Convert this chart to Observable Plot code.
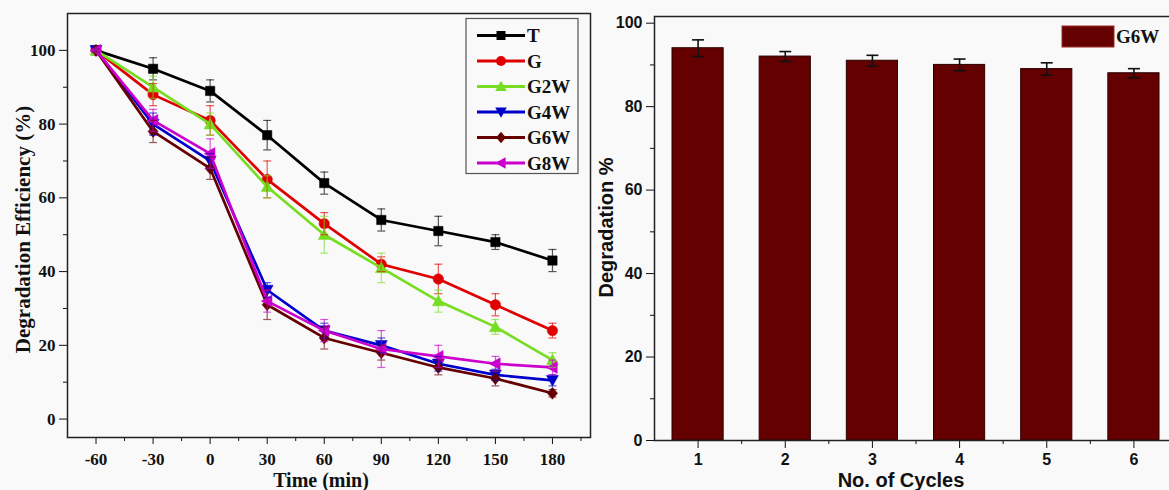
<!DOCTYPE html>
<html>
<head>
<meta charset="utf-8">
<script src="https://cdn.jsdelivr.net/npm/d3@7"></script>
<script src="https://cdn.jsdelivr.net/npm/@observablehq/plot@0.6"></script>
<style>
  html, body { margin: 0; padding: 0; background: #f9f9f9; overflow: hidden; }
  #wrap { position: relative; width: 1169px; height: 490px; overflow: hidden; }
  #left { position: absolute; left: 0; top: 0; width: 595px; height: 490px; }
  #right { position: absolute; left: 595px; top: 0; width: 584px; height: 490px; }
  #left svg, #right svg { max-width: none !important; }
  #legL { position: absolute; left: 0; top: 0; }
</style>
</head>
<body>
<div id="wrap">
  <div id="left"></div>
  <div id="right"></div>
  <svg id="legL" width="1169" height="490" style="pointer-events:none"></svg>
</div>
<script>
// ---------- Data: left panel ----------
const times = [-60, -30, 0, 30, 60, 90, 120, 150, 180];
const seriesNames = ["T", "G", "G2W", "G4W", "G6W", "G8W"];
const seriesColors = ["#000000", "#e00000", "#77dd22", "#0000cc", "#660000", "#cc00cc"];
const T_vals   = [100, 95, 89, 77, 64, 54, 51, 48, 43];
const T_err    = [0.5, 3, 3, 4, 3, 3, 4, 2, 3];
const G_vals   = [100, 88, 81, 65, 53, 42, 38, 31, 24];
const G_err    = [0.5, 3, 4, 5, 3, 2, 4, 3, 2];
const G2W_vals = [100, 90, 80, 63, 50, 41, 32, 25, 16];
const G2W_err  = [0.5, 3, 3, 3, 5, 4, 3, 2, 2];
const G4W_vals = [100, 80, 70, 35, 24, 20, 15, 12, 10.5];
const G4W_err  = [0.5, 3, 2, 2, 2, 2, 2, 1.5, 1.5];
const G6W_vals = [100, 78, 68, 31, 22, 18, 14, 11, 7];
const G6W_err  = [0.5, 3, 3, 4, 3, 2, 2, 2, 1];
const G8W_vals = [100, 81, 72, 32, 24, 19, 17, 15, 14];
const G8W_err  = [0.5, 3, 4, 3, 3, 5, 3, 2, 2];
const xMajor = [-60, -30, 0, 30, 60, 90, 120, 150, 180];
const xMinor = [-45, -15, 15, 45, 75, 105, 135, 165, 195];
const yMajorL = [0, 20, 40, 60, 80, 100];
const yMinorL = [10, 30, 50, 70, 90];

// ---------- Data: right panel ----------
const cycles = [1, 2, 3, 4, 5, 6];
const cycleVals = [94, 92, 91, 90, 89, 88];
const cycleErr = [2, 1.2, 1.3, 1.4, 1.5, 1.1];
const cycMinor = [1.5, 2.5, 3.5, 4.5, 5.5];
const yMajorR = [0, 20, 40, 60, 80, 100];
const yMinorR = [10, 30, 50, 70, 90];

// ---------- symbols ----------
function rr(size) { return Math.sqrt(size / Math.PI); }
const symSquare = { draw(c, s) { const h = rr(s) * 0.9; c.rect(-h, -h, 2 * h, 2 * h); } };
const symCircle = { draw(c, s) { const r = rr(s); c.moveTo(r, 0); c.arc(0, 0, r, 0, 2 * Math.PI); } };
const symUp = { draw(c, s) { const h = rr(s) * 1.15; c.moveTo(0, -h); c.lineTo(h, 0.8 * h); c.lineTo(-h, 0.8 * h); c.closePath(); } };
const symDown = { draw(c, s) { const h = rr(s) * 1.15; c.moveTo(0, h); c.lineTo(h, -0.8 * h); c.lineTo(-h, -0.8 * h); c.closePath(); } };
const symDiamond = { draw(c, s) { const h = rr(s) * 1.15; c.moveTo(0, -h); c.lineTo(0.85 * h, 0); c.lineTo(0, h); c.lineTo(-0.85 * h, 0); c.closePath(); } };
const symLeft = { draw(c, s) { const h = rr(s) * 1.15; c.moveTo(-h, 0); c.lineTo(0.8 * h, -h); c.lineTo(0.8 * h, h); c.closePath(); } };
const symCap = { draw(c, s) { const r = rr(s); c.moveTo(-r, 0); c.lineTo(r, 0); } };
const seriesSymbols = [symSquare, symCircle, symUp, symDown, symDiamond, symLeft];

const allVals = [T_vals, G_vals, G2W_vals, G4W_vals, G6W_vals, G8W_vals];
const allErrs = [T_err, G_err, G2W_err, G4W_err, G6W_err, G8W_err];

const rows = seriesNames.flatMap((name, si) =>
  times.map((t, i) => ({ series: name, time: t, value: allVals[si][i], err: allErrs[si][i] })));

// ---------- Left chart ----------
const leftMarks = [];
seriesNames.forEach((name, si) => {
  const d = rows.filter(r => r.series === name);
  const col = seriesColors[si];
  leftMarks.push(Plot.line(d, { x: "time", y: "value", stroke: col, strokeWidth: 2.7 }));
  leftMarks.push(Plot.dot(d, { x: "time", y: "value", symbol: seriesSymbols[si], r: 5.2, fill: col, stroke: col, strokeWidth: 0.5 }));
});
seriesNames.forEach((name, si) => {
  const d = rows.filter(r => r.series === name);
  const col = seriesColors[si];
  leftMarks.push(Plot.ruleX(d, { x: "time", y1: r => r.value - r.err, y2: r => r.value + r.err, stroke: col, strokeOpacity: 0.65, strokeWidth: 1.2 }));
  leftMarks.push(Plot.dot(d, { x: "time", y: r => r.value - r.err, symbol: symCap, r: 4, fill: "none", stroke: col, strokeOpacity: 0.65, strokeWidth: 1.2 }));
  leftMarks.push(Plot.dot(d, { x: "time", y: r => r.value + r.err, symbol: symCap, r: 4, fill: "none", stroke: col, strokeOpacity: 0.65, strokeWidth: 1.2 }));
});

const serifFam = "'Liberation Serif', 'Times New Roman', serif";
const sansFam = "'Liberation Sans', Arial, sans-serif";

const left = Plot.plot({
  width: 595, height: 490,
  marginLeft: 67, marginRight: 5, marginTop: 13, marginBottom: 53,
  style: { fontFamily: serifFam, fontWeight: "bold", fontSize: "17px", background: "transparent", color: "#111", maxWidth: "none" },
  x: { type: "linear", domain: [-75, 200] },
  y: { type: "linear", domain: [-5, 110] },
  marks: [
    Plot.axisY({ ticks: yMajorL, tickSize: 8, tickPadding: 4, label: null, tickFormat: d => d, fontSize: 17, fontWeight: "bold" }),
    Plot.axisY({ ticks: yMinorL, tickSize: 4, label: null, tickFormat: () => "" }),
    Plot.axisX({ ticks: xMajor, tickSize: 7, tickPadding: 8, label: null, tickFormat: d => d, fontSize: 17, fontWeight: "bold" }),
    Plot.axisX({ ticks: xMinor, tickSize: 4, label: null, tickFormat: () => "" }),
    ...leftMarks,
    Plot.frame({ stroke: "#222", strokeWidth: 1.5 }),
    Plot.text(["Degradation Efficiency (%)"], { frameAnchor: "left", text: d => d, rotate: -90, textAnchor: "middle", lineAnchor: "middle", dx: -44, dy: 4, fontSize: 21, fontWeight: "bold", fill: "#111" }),
    Plot.text(["Time (min)"], { frameAnchor: "bottom", text: d => d, textAnchor: "middle", lineAnchor: "middle", dy: 43, dx: -8, fontSize: 20, fontWeight: "bold", fill: "#111" })
  ]
});
document.getElementById("left").appendChild(left);

// ---------- Right chart ----------
const cycRows = cycles.map((c, i) => ({ cycle: c, value: cycleVals[i], err: cycleErr[i] }));
const right = Plot.plot({
  width: 584, height: 490,
  marginLeft: 59, marginRight: 2, marginTop: 16, marginBottom: 50,
  style: { fontFamily: sansFam, fontWeight: "bold", fontSize: "16px", background: "transparent", color: "#111", maxWidth: "none" },
  x: { type: "linear", domain: [0.5, 6.5] },
  y: { type: "linear", domain: [0, 101.6] },
  marks: [
    Plot.rectY(cycRows, { x1: d => d.cycle - 0.5, x2: d => d.cycle + 0.5, y: "value", insetLeft: 18, insetRight: 18, fill: "#650000", stroke: "#2a0000", strokeWidth: 1 }),
    Plot.ruleX(cycRows, { x: "cycle", y1: d => d.value - d.err, y2: d => d.value + d.err, stroke: "#111", strokeWidth: 1.6 }),
    Plot.dot(cycRows, { x: "cycle", y: d => d.value - d.err, symbol: symCap, r: 6, fill: "none", stroke: "#111", strokeWidth: 1.6 }),
    Plot.dot(cycRows, { x: "cycle", y: d => d.value + d.err, symbol: symCap, r: 6, fill: "none", stroke: "#111", strokeWidth: 1.6 }),
    Plot.axisY({ ticks: yMajorR, tickSize: 8, tickPadding: 4, label: null, tickFormat: d => d, fontSize: 16, fontWeight: "bold" }),
    Plot.axisY({ ticks: yMinorR, tickSize: 4, label: null, tickFormat: () => "" }),
    Plot.axisX({ ticks: cycles, tickSize: 8, tickPadding: 5, label: null, tickFormat: d => d, fontSize: 16, fontWeight: "bold" }),
    Plot.axisX({ ticks: cycMinor, tickSize: 4, label: null, tickFormat: () => "" }),
    Plot.frame({ stroke: "#222", strokeWidth: 1.5 }),
    Plot.text(["Degradation %"], { frameAnchor: "left", text: d => d, rotate: -90, textAnchor: "middle", lineAnchor: "middle", dx: -48, dy: -1, fontSize: 20, fontWeight: "bold", fill: "#111" }),
    Plot.text(["No. of Cycles"], { frameAnchor: "bottom", text: d => d, textAnchor: "middle", lineAnchor: "middle", dy: 40, dx: -15, fontSize: 20, fontWeight: "bold", fill: "#111" })
  ]
});
document.getElementById("right").appendChild(right);

// ---------- Legends ----------
const leg = d3.select("#legL");
leg.append("rect").attr("x", 466).attr("y", 18.5).attr("width", 112).attr("height", 155)
  .attr("fill", "none").attr("stroke", "#555").attr("stroke-width", 1.2);
seriesNames.forEach((name, i) => {
  const y = 35.5 + i * 25.5;
  leg.append("line").attr("x1", 477).attr("x2", 525).attr("y1", y).attr("y2", y)
    .attr("stroke", seriesColors[i]).attr("stroke-width", 2.8);
  leg.append("path").attr("transform", `translate(501,${y})`)
    .attr("d", d3.symbol().type(seriesSymbols[i]).size(Math.PI * 25)())
    .attr("fill", seriesColors[i]);
  leg.append("text").attr("x", 527).attr("y", y + 6.5).text(name)
    .attr("font-family", serifFam).attr("font-weight", "bold").attr("font-size", 19).attr("fill", "#111");
});
leg.append("rect").attr("x", 1062).attr("y", 26).attr("width", 52).attr("height", 21)
  .attr("fill", "#650000").attr("stroke", "#a02828").attr("stroke-width", 1);
leg.append("text").attr("x", 1116).attr("y", 43).text("G6W")
  .attr("font-family", serifFam).attr("font-weight", "bold").attr("font-size", 19).attr("fill", "#111");
</script>
</body>
</html>
